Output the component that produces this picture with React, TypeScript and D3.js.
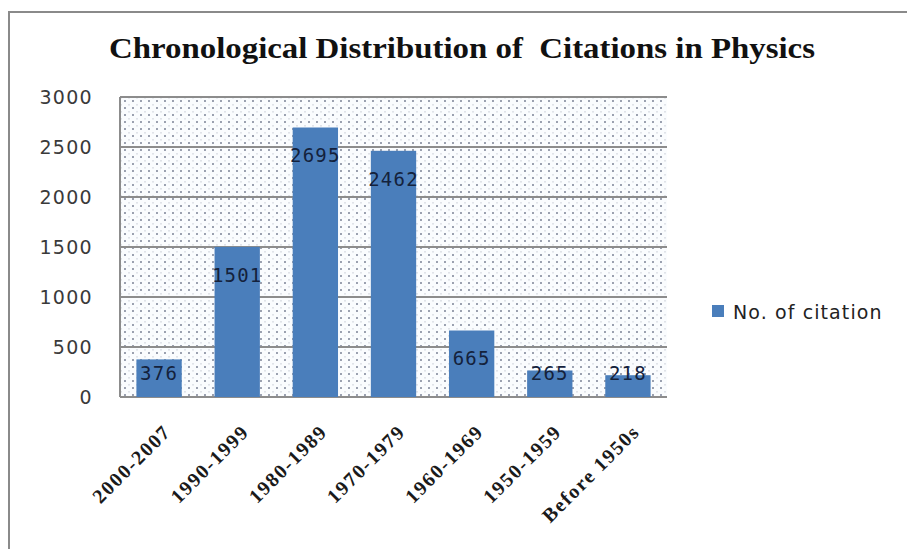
import React from "react";
import * as d3 from "d3";

const categories = [
  "2000-2007",
  "1990-1999",
  "1980-1989",
  "1970-1979",
  "1960-1969",
  "1950-1959",
  "Before 1950s",
];
const citations = [376, 1501, 2695, 2462, 665, 265, 218];
const yTicks = [0, 500, 1000, 1500, 2000, 2500, 3000];
const seriesName = "No. of citation";
const title = "Chronological Distribution of Citations in Physics";

const W = 907;
const H = 549;
const plot = { left: 120, right: 667, top: 97, bottom: 397 };
const barColor = "#4a7ebb";
const gridColor = "#8c8c8c";

export default function App() {
  const x = d3
    .scaleBand<string>()
    .domain(categories)
    .range([plot.left, plot.right])
    .paddingInner(0.42)
    .paddingOuter(0.21);
  const y = d3.scaleLinear().domain([0, 3000]).range([plot.bottom, plot.top]);

  return (
    <svg
      width={W}
      height={H}
      viewBox={`0 0 ${W} ${H}`}
      style={{ position: "absolute", left: 0, top: 0, background: "#fff" }}
    >
      <defs>
        <pattern id="dots" width={8} height={7} patternUnits="userSpaceOnUse" x={plot.left + 3} y={plot.top + 2}>
          <rect width={8} height={7} fill="#fafcfe" />
          <circle cx={2} cy={2} r={0.95} fill="#737b8f" />
          <rect x={5.6} y={5} width={0.8} height={1.6} fill="#b9bfcb" />
        </pattern>
      </defs>

      {/* outer frame */}
      <rect x={9} y={12} width={W + 20} height={H + 20} fill="none" stroke="#8a8a8a" strokeWidth={2} />

      {/* title */}
      <text
        x={462}
        y={58}
        textAnchor="middle"
        fontFamily="'Liberation Serif', serif"
        fontWeight="bold"
        fontSize={30}
        textLength={706}
        lengthAdjust="spacingAndGlyphs"
        fill="#111"
        style={{ whiteSpace: "pre" }}
      >
        {title.replace(" of ", " of  ")}
      </text>

      {/* plot background */}
      <rect
        x={plot.left}
        y={plot.top}
        width={plot.right - plot.left}
        height={plot.bottom - plot.top}
        fill="url(#dots)"
      />

      {/* grid lines */}
      {yTicks.map((t) => (
        <line
          key={t}
          x1={plot.left}
          x2={plot.right}
          y1={y(t)}
          y2={y(t)}
          stroke={gridColor}
          strokeWidth={2}
        />
      ))}
      <line x1={plot.left} x2={plot.left} y1={plot.top} y2={plot.bottom} stroke={gridColor} strokeWidth={2} />

      {/* y tick labels */}
      {yTicks.map((t) => (
        <text
          key={t}
          x={93}
          y={y(t)}
          dy="0.36em"
          textAnchor="end"
          fontFamily="'DejaVu Sans', sans-serif"
          fontSize={19}
          letterSpacing={1.3}
          fill="#3a3a3a"
        >
          {t}
        </text>
      ))}

      {/* bars */}
      {categories.map((c, i) => (
        <rect
          key={c}
          x={x(c)}
          y={y(citations[i])}
          width={x.bandwidth()}
          height={plot.bottom - y(citations[i])}
          fill={barColor}
        />
      ))}

      {/* value labels */}
      {categories.map((c, i) => {
        const cy = Math.min(y(citations[i]) + 28, plot.bottom - 24);
        return (
          <text
            key={c}
            x={(x(c) as number) + x.bandwidth() / 2}
            y={cy}
            dy="0.36em"
            textAnchor="middle"
            fontFamily="'DejaVu Sans Mono', monospace"
            fontSize={19}
            letterSpacing={1.2}
            fill="#14223c"
          >
            {citations[i]}
          </text>
        );
      })}

      {/* category labels */}
      {categories.map((c) => {
        const cx = (x(c) as number) + x.bandwidth() / 2 + 13;
        const cy = plot.bottom + 36;
        return (
          <text
            key={c}
            transform={`translate(${cx},${cy}) rotate(-45)`}
            textAnchor="end"
            fontFamily="'Liberation Serif', serif"
            fontWeight="bold"
            fontSize={20}
            letterSpacing={1.6}
            fill="#1a1a1a"
          >
            {c}
          </text>
        );
      })}

      {/* legend */}
      <rect x={712} y={305} width={12} height={12} fill={barColor} />
      <text
        x={733}
        y={312}
        dy="0.36em"
        fontFamily="'DejaVu Sans', sans-serif"
        fontSize={19}
        letterSpacing={1.1}
        fill="#222"
      >
        {seriesName}
      </text>
    </svg>
  );
}
